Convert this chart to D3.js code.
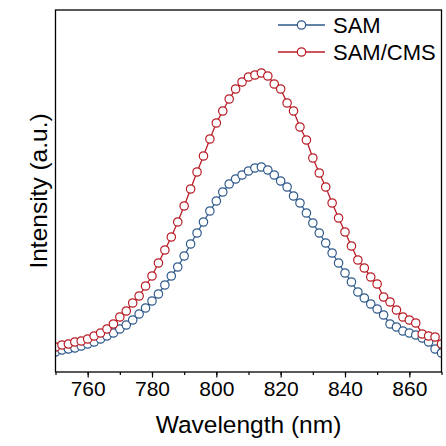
<!DOCTYPE html>
<html>
<head>
<meta charset="utf-8">
<script src="https://cdn.jsdelivr.net/npm/d3@7"></script>
<style>
  body { margin: 0; background: #fff; }
  svg { display: block; font-family: Arial, "Liberation Sans", sans-serif; }
</style>
</head>
<body>
<svg id="chart" width="446" height="446"></svg>
<script>
  // wavelength grid, nm (one point every 2 nm)
  const wavelengths = d3.range(750, 871, 2)

  // intensity, a.u.
  const sam = [
    20, 22, 23, 24, 26, 28, 30, 33, 36, 39,
    43, 47, 52, 58, 64, 71, 78, 87, 96, 105,
    116, 128, 139, 150, 161, 171, 180, 188, 193, 197,
    201, 204, 205, 202, 197, 191, 185, 176, 169, 159,
    149, 139, 129, 119, 109, 99, 90, 80, 74, 68,
    63, 57, 48, 45, 41, 39, 37, 34, 30, 23, 19
  ]
  const samCms = [
    25, 27, 28, 30, 31, 33, 36, 39, 43, 48,
    55, 61, 69, 76, 86, 96, 109, 122, 135, 150,
    166, 183, 200, 216, 233, 249, 261, 273, 283, 290,
    295, 297, 299, 296, 288, 283, 269, 261, 245, 232,
    214, 199, 185, 169, 154, 140, 126, 112, 104, 95,
    88, 75, 70, 62, 55, 52, 49, 38, 36, 35, 28
  ]

  const seriesNames = ["SAM", "SAM/CMS"]
  const seriesColors = ["#2f5a8c", "#b81d27"]
  const xTicks = [760, 780, 800, 820, 840, 860]

  const margin = { top: 10, right: 4.5, bottom: 74, left: 55.5 }
  const width = 446
  const height = 446
  const chartWidth = width - margin.left - margin.right
  const chartHeight = height - margin.top - margin.bottom
  const markerRadius = 4.2

  const xPositionScale = d3.scaleLinear().domain([750, 870]).range([0, chartWidth])
  const yPositionScale = d3.scaleLinear().domain([0, 362]).range([chartHeight, 0])

  const svg = d3.select("#chart")
  const g = svg.append("g").attr("transform", `translate(${margin.left},${margin.top})`)

  g.append("clipPath").attr("id", "plot-clip")
    .append("rect").attr("width", chartWidth).attr("height", chartHeight)

  const series = [sam, samCms].map((values, i) => ({
    name: seriesNames[i],
    color: seriesColors[i],
    points: values.map((v, j) => ({ x: wavelengths[j], y: v }))
  }))

  const line = d3.line()
    .x(d => xPositionScale(d.x))
    .y(d => yPositionScale(d.y))

  const plot = g.append("g").attr("clip-path", "url(#plot-clip)")

  series.forEach(s => {
    plot.append("path")
      .datum(s.points)
      .attr("fill", "none")
      .attr("stroke", s.color)
      .attr("stroke-width", 1.3)
      .attr("d", line)

    plot.selectAll(null)
      .data(s.points)
      .enter()
      .append("circle")
      .attr("cx", d => xPositionScale(d.x))
      .attr("cy", d => yPositionScale(d.y))
      .attr("r", markerRadius)
      .attr("fill", "#fff")
      .attr("stroke", s.color)
      .attr("stroke-width", 1.2)
  })

  // minor ticks every 10 nm
  const minorAxis = d3.axisBottom(xPositionScale)
    .tickValues(d3.range(750, 871, 10))
    .tickSize(3)
    .tickFormat("")
  g.append("g")
    .attr("transform", `translate(0,${chartHeight})`)
    .call(minorAxis)
    .call(a => a.select(".domain").remove())
    .call(a => a.selectAll("line").attr("stroke", "#000").attr("stroke-width", 1.2))

  const xAxis = d3.axisBottom(xPositionScale)
    .tickValues(xTicks)
    .tickSize(5.5)
    .tickPadding(4)
  g.append("g")
    .attr("transform", `translate(0,${chartHeight})`)
    .call(xAxis)
    .call(a => a.select(".domain").remove())
    .call(a => a.selectAll("line").attr("stroke", "#000").attr("stroke-width", 1.2))
    .call(a => a.selectAll("text")
      .attr("fill", "#000")
      .style("font-size", "21px")
      .style("font-family", "Arial, 'Liberation Sans', sans-serif"))

  // frame
  g.append("rect")
    .attr("width", chartWidth)
    .attr("height", chartHeight)
    .attr("fill", "none")
    .attr("stroke", "#000")
    .attr("stroke-width", 1.3)

  // axis titles
  svg.append("text")
    .attr("x", margin.left + chartWidth / 2)
    .attr("y", 433)
    .attr("text-anchor", "middle")
    .style("font-size", "24.5px")
    .text("Wavelength (nm)")

  svg.append("text")
    .attr("transform", `translate(47,${margin.top + chartHeight / 2}) rotate(-90)`)
    .attr("text-anchor", "middle")
    .style("font-size", "24.5px")
    .text("Intensity (a.u.)")

  // legend
  const legend = svg.append("g")
  series.forEach((s, i) => {
    const y = 25 + i * 27
    legend.append("line")
      .attr("x1", 278).attr("x2", 325)
      .attr("y1", y).attr("y2", y)
      .attr("stroke", s.color)
      .attr("stroke-width", 1.3)
    legend.append("circle")
      .attr("cx", 301.5).attr("cy", y).attr("r", markerRadius)
      .attr("fill", "#fff")
      .attr("stroke", s.color)
      .attr("stroke-width", 1.2)
    legend.append("text")
      .attr("x", 333)
      .attr("y", y)
      .attr("dy", "0.35em")
      .style("font-size", "22px")
      .text(s.name)
  })
</script>
</body>
</html>
